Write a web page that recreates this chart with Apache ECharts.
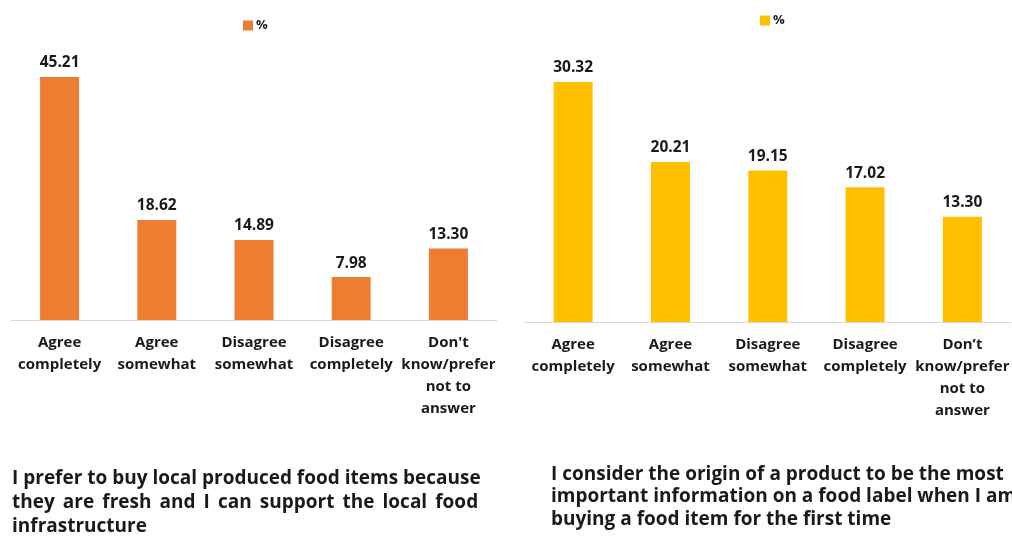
<!DOCTYPE html>
<html>
<head>
<meta charset="utf-8">
<script src="https://cdn.jsdelivr.net/npm/echarts@6/dist/echarts.min.js"></script>
<style>
  html, body { margin: 0; padding: 0; background: #fff; }
  #chart { width: 1012px; height: 540px; }
</style>
</head>
<body>
<div id="chart"></div>
<script>
// categories of the two survey questions
var leftCategories = ["Agree\ncompletely", "Agree\nsomewhat", "Disagree\nsomewhat", "Disagree\ncompletely", "Don't\nknow/prefer\nnot to\nanswer"];
var rightCategories = ["Agree\ncompletely", "Agree\nsomewhat", "Disagree\nsomewhat", "Disagree\ncompletely", "Don\u2019t\nknow/prefer\nnot to\nanswer"];

// % values
var leftValues = [45.21, 18.62, 14.89, 7.98, 13.30];
var rightValues = [30.32, 20.21, 19.15, 17.02, 13.30];

// the left caption is justified in the original, widen the gaps of line 2 a bit
var gap = " \u2009";
var leftTitle = "I prefer to buy local produced food items because\n" +
    ["they", "are", "fresh", "and", "I", "can", "support", "the", "local", "food"].join(gap) +
    "\ninfrastructure";
var rightTitle = "I consider the origin of a product to be the most\nimportant information on a food label when I am\nbuying a food item for the first time";

var font = "'Open Sans', sans-serif";
var textColor = "#1a1a1a";

var myChart = echarts.init(document.getElementById("chart"));

function catAxis(idx, data) {
    return {
        type: "category",
        gridIndex: idx,
        data: data,
        axisLine: { lineStyle: { color: "#d9d9d9", width: 1 } },
        axisTick: { show: false },
        axisLabel: {
            interval: 0,
            margin: 12,
            color: textColor,
            fontFamily: font,
            fontWeight: "bold",
            fontSize: 15,
            lineHeight: 22
        }
    };
}

function valAxis(idx, max) {
    return {
        type: "value",
        gridIndex: idx,
        min: 0,
        max: max,
        show: false,
        splitLine: { show: false }
    };
}

function barSeries(name, idx, data, color) {
    return {
        name: name,
        type: "bar",
        xAxisIndex: idx,
        yAxisIndex: idx,
        data: data,
        barWidth: 39,
        itemStyle: { color: color },
        label: {
            show: true,
            position: "top",
            distance: 6,
            formatter: function (p) { return p.value.toFixed(2); },
            color: textColor,
            fontFamily: font,
            fontWeight: "bold",
            fontSize: 15.5
        }
    };
}

function legendFor(name, left, top) {
    return {
        data: [name],
        left: left,
        top: top,
        padding: 0,
        itemWidth: 10,
        itemHeight: 10,
        itemGap: 4,
        icon: "rect",
        selectedMode: false,
        formatter: function () { return "%"; },
        textStyle: { color: textColor, fontFamily: font, fontWeight: "bold", fontSize: 13, padding: [0, 0, 0, -2] }
    };
}

var option = {
    animation: false,
    title: [
        {
            text: leftTitle,
            left: 12,
            top: 467,
            padding: 0,
            textStyle: { color: textColor, fontFamily: font, fontWeight: "bold", fontSize: 19, lineHeight: 24 }
        },
        {
            text: rightTitle,
            left: 551,
            top: 463,
            padding: 0,
            textStyle: { color: textColor, fontFamily: font, fontWeight: "bold", fontSize: 19, lineHeight: 22.5 }
        }
    ],
    legend: [
        legendFor("pctLeft", 243, 19),
        legendFor("pctRight", 760, 14)
    ],
    grid: [
        { left: 11, width: 486, top: 51.25, bottom: 220 },
        { left: 524.5, width: 491, top: 45, bottom: 218 }
    ],
    xAxis: [catAxis(0, leftCategories), catAxis(1, rightCategories)],
    yAxis: [valAxis(0, 50), valAxis(1, 35)],
    series: [
        barSeries("pctLeft", 0, leftValues, "#ed7d31"),
        barSeries("pctRight", 1, rightValues, "#ffc000")
    ]
};

myChart.setOption(option);
</script>
</body>
</html>
